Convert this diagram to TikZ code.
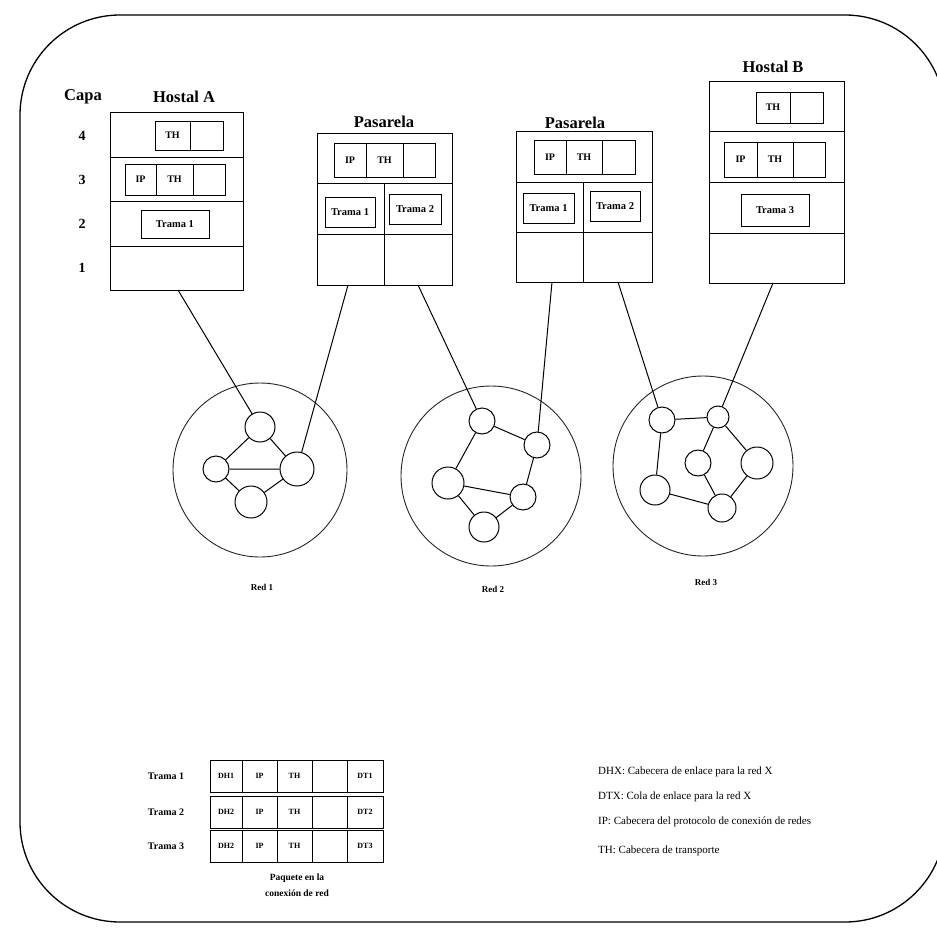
\documentclass[tikz,border=0pt]{standalone}
\usepackage{fontspec}
\setmainfont{Liberation Serif}
\begin{document}
\begin{tikzpicture}[x=1pt,y=-1pt,
  frame/.style={draw=black, line width=1.3pt, rounded corners=100pt},
  stackbox/.style={draw=black, line width=1pt, inner sep=0pt},
  cell/.style={draw=black, line width=0.9pt, inner sep=0pt, font=\bfseries\fontsize{10}{10}\selectfont},
  tcell/.style={cell, font=\bfseries\fontsize{10.5}{10.5}\selectfont},
  fcell/.style={draw=black, line width=0.9pt, inner sep=0pt, minimum height=32pt, font=\bfseries\fontsize{8}{8}\selectfont},
  head/.style={font=\bfseries\fontsize{16.5}{16.5}\selectfont, inner sep=0pt},
  num/.style={font=\bfseries\fontsize{14}{14}\selectfont, inner sep=0pt},
  net/.style={circle, draw=black!85, line width=0.9pt, inner sep=0pt},
  dev/.style={circle, draw=black, line width=1pt, inner sep=0pt},
  link/.style={draw=black, line width=1pt},
  small/.style={font=\bfseries\fontsize{9}{9}\selectfont, inner sep=0pt},
  rowlab/.style={font=\bfseries\fontsize{10}{10}\selectfont, inner sep=0pt},
  legend/.style={font=\fontsize{11}{11}\selectfont, anchor=west, inner sep=0pt}
]
\useasboundingbox (0,0) rectangle (937,937);
\begin{scope}
\clip (0,0) rectangle (937,937);
\draw[frame] (20,15) rectangle (945,922);
\end{scope}

% ---------- Hostal A ----------
\node[head] (capa) at (83,97) {Capa};
\node[head] (hatitle) at (184,97) {Hostal A};
\node[num] (l4) at (82,136) {4};
\node[num] (l3) at (82,180) {3};
\node[num] (l2) at (82,224) {2};
\node[num] (l1) at (82,268) {1};
\node[stackbox, minimum width=133pt, minimum height=178pt] (ha) at (176.5,201) {};
\draw[line width=1pt] (110,157) -- (243,157) (110,201) -- (243,201) (110,246) -- (243,246);
\node[cell, minimum width=35pt, minimum height=29pt] (ha4th) at (172.5,135.5) {TH};
\node[cell, minimum width=33pt, minimum height=29pt] (ha4e) at (206.5,135.5) {};
\node[cell, minimum width=31pt, minimum height=31pt] (ha3ip) at (140.5,179.5) {IP};
\node[cell, minimum width=37pt, minimum height=31pt] (ha3th) at (174.5,179.5) {TH};
\node[cell, minimum width=32pt, minimum height=31pt] (ha3e) at (209,179.5) {};
\node[tcell, minimum width=68pt, minimum height=28pt] (ha2) at (175,224) {Trama 1};
\coordinate (haB) at (178,290);

% ---------- Pasarela 1 ----------
\node[head] (p1title) at (384,122) {Pasarela};
\node[stackbox, minimum width=135pt, minimum height=152pt] (p1) at (384.5,209) {};
\draw[line width=1pt] (317,183) -- (452,183) (317,234) -- (452,234) (384,183) -- (384,285);
\node[cell, minimum width=32pt, minimum height=34pt] (p1ip) at (350,160) {IP};
\node[cell, minimum width=37pt, minimum height=34pt] (p1th) at (384.5,160) {TH};
\node[cell, minimum width=32pt, minimum height=34pt] (p1e) at (419,160) {};
\node[tcell, minimum width=50pt, minimum height=30pt] (p1t1) at (350,212) {Trama 1};
\node[tcell, minimum width=52pt, minimum height=30pt] (p1t2) at (415,209) {Trama 2};
\coordinate (p1L) at (348,285);
\coordinate (p1R) at (418,285);

% ---------- Pasarela 2 ----------
\node[head] (p2title) at (575,123) {Pasarela};
\node[stackbox, minimum width=136pt, minimum height=151pt] (p2) at (584,206.5) {};
\draw[line width=1pt] (516,182) -- (652,182) (516,232) -- (652,232) (583,182) -- (583,282);
\node[cell, minimum width=32pt, minimum height=34pt] (p2ip) at (550,157) {IP};
\node[cell, minimum width=36pt, minimum height=34pt] (p2th) at (584,157) {TH};
\node[cell, minimum width=33pt, minimum height=34pt] (p2e) at (618.5,157) {};
\node[tcell, minimum width=51pt, minimum height=30pt] (p2t1) at (548.5,208) {Trama 1};
\node[tcell, minimum width=50pt, minimum height=30pt] (p2t2) at (615,206) {Trama 2};
\coordinate (p2L) at (552,282);
\coordinate (p2R) at (618,282);

% ---------- Hostal B ----------
\node[head] (hbtitle) at (773,67) {Hostal B};
\node[stackbox, minimum width=135pt, minimum height=202pt] (hb) at (776.5,182) {};
\draw[line width=1pt] (709,131) -- (844,131) (709,182) -- (844,182) (709,233) -- (844,233);
\node[cell, minimum width=34pt, minimum height=31pt] (hb4th) at (773,107.5) {TH};
\node[cell, minimum width=33pt, minimum height=31pt] (hb4e) at (806.5,107.5) {};
\node[cell, minimum width=33pt, minimum height=35pt] (hb3ip) at (740.5,159.5) {IP};
\node[cell, minimum width=36pt, minimum height=35pt] (hb3th) at (775,159.5) {TH};
\node[cell, minimum width=32pt, minimum height=35pt] (hb3e) at (809,159.5) {};
\node[tcell, minimum width=68pt, minimum height=32pt] (hb2) at (775,210) {Trama 3};
\coordinate (hbB) at (773,283);

% ---------- Red 1 ----------
\node[net, minimum size=174pt] (red1) at (260,470) {};
\node[dev, minimum size=30pt] (n1a) at (260,427) {};
\node[dev, minimum size=26pt] (n1b) at (216,469) {};
\node[dev, minimum size=34pt] (n1d) at (297,469) {};
\node[dev, minimum size=32pt] (n1c) at (251,502) {};
\draw[link] (n1a) -- (n1b) (n1a) -- (n1d) (n1b) -- (n1d) (n1b) -- (n1c) (n1c) -- (n1d);
\node[small] (r1lab) at (262,587) {Red 1};

% ---------- Red 2 ----------
\node[net, minimum size=180pt] (red2) at (491,476) {};
\node[dev, minimum size=26pt] (n2a) at (482,421) {};
\node[dev, minimum size=26pt] (n2b) at (537,445) {};
\node[dev, minimum size=32pt] (n2c) at (448,483) {};
\node[dev, minimum size=26pt] (n2d) at (523,497) {};
\node[dev, minimum size=30pt] (n2e) at (484,527) {};
\draw[link] (n2a) -- (n2b) (n2a) -- (n2c) (n2b) -- (n2d) (n2c) -- (n2d) (n2c) -- (n2e) (n2e) -- (n2d);
\node[small] (r2lab) at (493,589) {Red 2};

% ---------- Red 3 ----------
\node[net, minimum size=180pt] (red3) at (703,466) {};
\node[dev, minimum size=26pt] (n3p) at (662,420) {};
\node[dev, minimum size=22pt] (n3q) at (718,417) {};
\node[dev, minimum size=26pt] (n3r) at (698,463) {};
\node[dev, minimum size=32pt] (n3s) at (757,463) {};
\node[dev, minimum size=30pt] (n3t) at (655,490) {};
\node[dev, minimum size=28pt] (n3u) at (722,508) {};
\draw[link] (n3p) -- (n3q) (n3p) -- (n3t) (n3q) -- (n3r) (n3q) -- (n3s) (n3r) -- (n3u) (n3t) -- (n3u) (n3s) -- (n3u);
\node[small] (r3lab) at (706,582) {Red 3};

% ---------- connections stacks -> networks ----------
\draw[link] (haB) -- (n1a);
\draw[link] (p1L) -- (n1d);
\draw[link] (p1R) -- (n2a);
\draw[link] (p2L) -- (n2b);
\draw[link] (p2R) -- (n3p);
\draw[link] (hbB) -- (n3q);

% ---------- frame formats ----------
\foreach \r/\y/\dh/\dt in {1/776/DH1/DT1, 2/812/DH2/DT2, 3/846/DH2/DT3}{
  \node[rowlab] (tl\r) at (166,\y) {Trama \r};
  \node[fcell, minimum width=32pt] (fdh\r) at (226,\y) {\dh};
  \node[fcell, minimum width=35pt] (fip\r) at (259.5,\y) {IP};
  \node[fcell, minimum width=35pt] (fth\r) at (294.5,\y) {TH};
  \node[fcell, minimum width=35pt] (fe\r) at (329.5,\y) {};
  \node[fcell, minimum width=36pt] (fdt\r) at (365,\y) {\dt};
}
\node[small, font=\bfseries\fontsize{9.5}{9.5}\selectfont] (paq1) at (297,878) {Paquete en la};
\node[small, font=\bfseries\fontsize{9.5}{9.5}\selectfont] (paq2) at (297,893) {conexión de red};

% ---------- legend ----------
\node[legend] (lg1) at (598,772) {DHX: Cabecera de enlace para la red X};
\node[legend] (lg2) at (598,797) {DTX: Cola de enlace para la red X};
\node[legend] (lg3) at (598,822) {IP: Cabecera del protocolo de conexión de redes};
\node[legend] (lg4) at (598,851) {TH: Cabecera de transporte};
\end{tikzpicture}
\end{document}
